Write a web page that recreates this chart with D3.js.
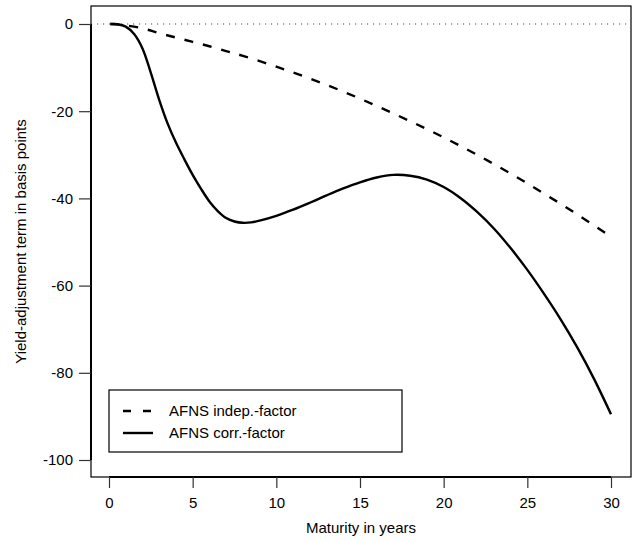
<!DOCTYPE html>
<html><head><meta charset="utf-8">
<script src="https://cdn.jsdelivr.net/npm/d3@7/dist/d3.min.js"></script>
<style>body{margin:0;background:#fff}svg{display:block}text{font-family:"Liberation Sans",Arial,Helvetica,sans-serif;fill:#000}</style>
</head><body><svg id="c" width="635" height="541"></svg>
<script>
// Data
const maturityIndep = [0.08,0.5,1,2,3,4,5,6,7,8,10,12,14,16,18,20,22,24,26,28,30];
const valuesIndep   = [0,-0.05,-0.3,-1.0,-2.1,-3.1,-4.1,-5.1,-6.2,-7.3,-9.8,-12.5,-15.5,-18.8,-22.3,-26.0,-30.0,-34.3,-38.9,-43.7,-48.8];
const maturityCorr  = [0.08,0.5,1,1.5,2,2.5,3,3.5,4,4.5,5,5.5,6,6.5,7,7.5,8,8.5,9,10,11,12,13,14,15,16,17,18,19,20,21,22,23,24,25,26,27,28,29,30];
const valuesCorr    = [0,-0.05,-0.6,-2.3,-5.6,-11.2,-17.4,-22.8,-27.2,-31.0,-34.6,-37.8,-40.7,-42.9,-44.5,-45.3,-45.6,-45.5,-45.1,-44.0,-42.6,-41.0,-39.3,-37.7,-36.3,-35.2,-34.6,-34.8,-35.7,-37.4,-39.9,-43.1,-46.9,-51.4,-56.4,-61.9,-67.8,-74.3,-81.5,-89.5];
const xTicks = [0,5,10,15,20,25,30];
const yTicks = [0,-20,-40,-60,-80,-100];
const seriesNames = ["AFNS indep.-factor","AFNS corr.-factor"];
const xTitle = "Maturity in years";
const yTitle = "Yield-adjustment term in basis points";

const svg = d3.select("#c");
const box = {l:91, r:631, t:6, b:477};
const x = d3.scaleLinear().domain([0,30]).range([109,611]);
const y = d3.scaleLinear().domain([0,-100]).range([24,460]);

// plot box
svg.append("rect").attr("x",box.l).attr("y",box.t).attr("width",box.r-box.l).attr("height",box.b-box.t)
  .attr("fill","none").attr("stroke","#000").attr("stroke-width",1.2);

// zero dotted line
svg.append("line").attr("x1",box.l).attr("x2",box.r).attr("y1",y(0)).attr("y2",y(0))
  .attr("stroke","#555").attr("stroke-width",1).attr("stroke-dasharray","1.2,4.8");

// axes
const xAxis = d3.axisBottom(x).tickValues(xTicks).tickSize(11).tickPadding(9).tickFormat(d3.format("d"));
const gx = svg.append("g").attr("transform",`translate(0,${box.b})`).call(xAxis);
const yAxis = d3.axisLeft(y).tickValues(yTicks).tickSize(12).tickPadding(6).tickFormat(d=>d===0?"0":String(d));
const gy = svg.append("g").attr("transform",`translate(${box.l},0)`).call(yAxis);
[gx,gy].forEach(g=>{
  g.select(".domain").attr("stroke","#000").attr("stroke-width",2);
  g.selectAll(".tick line").attr("stroke","#333").attr("stroke-width",1.2);
  g.selectAll(".tick text").attr("font-size",15).attr("font-family","Liberation Sans, Arial, sans-serif").attr("fill","#000");
});
gx.select(".domain").attr("d",`M${x(0)},0H${x(30)}`);
gy.select(".domain").attr("d",`M0,${y(0)}V${y(-100)}`);

// titles
svg.append("text").attr("x",(box.l+box.r)/2).attr("y",533).attr("text-anchor","middle").attr("font-size",15).text(xTitle);
svg.append("text").attr("transform",`translate(26,${(box.t+box.b)/2}) rotate(-90)`).attr("text-anchor","middle").attr("font-size",15).text(yTitle);

// lines
const line = d3.line().x(d=>x(d[0])).y(d=>y(d[1])).curve(d3.curveCatmullRom.alpha(0.5));
svg.append("path").datum(d3.zip(maturityIndep,valuesIndep)).attr("d",line)
  .attr("fill","none").attr("stroke","#000").attr("stroke-width",2.4).attr("stroke-dasharray","9,10");
svg.append("path").datum(d3.zip(maturityCorr,valuesCorr)).attr("d",line)
  .attr("fill","none").attr("stroke","#000").attr("stroke-width",2.4);

// legend
svg.append("rect").attr("x",109).attr("y",390).attr("width",293).attr("height",62)
  .attr("fill","#fff").attr("stroke","#000").attr("stroke-width",1.2);
const rows = [{y:411, dash:"8,12"},{y:433, dash:null}];
rows.forEach((r,i)=>{
  svg.append("line").attr("x1",123).attr("x2",153).attr("y1",r.y).attr("y2",r.y)
    .attr("stroke","#000").attr("stroke-width",2.4).attr("stroke-dasharray",r.dash);
  svg.append("text").attr("x",169).attr("y",r.y).attr("dy","0.35em").attr("font-size",15).text(seriesNames[i]);
});
</script></body></html>
